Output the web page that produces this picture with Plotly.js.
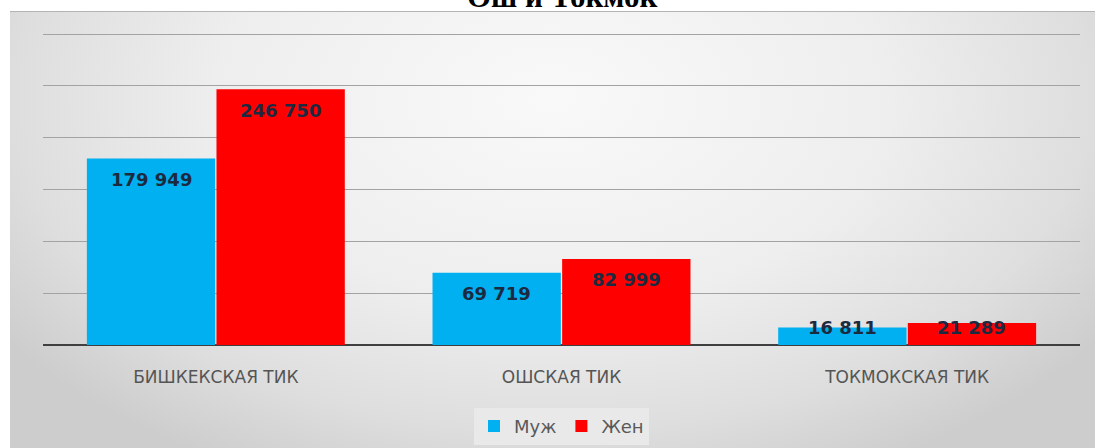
<!DOCTYPE html>
<html>
<head>
<meta charset="utf-8">
<script src="https://cdn.plot.ly/plotly-3.0.1.min.js"></script>
<style>
  html, body { margin: 0; padding: 0; background: #ffffff; }
  #wrap { position: relative; width: 1103px; height: 448px; overflow: hidden; background: #ffffff; }
  #bg { position: absolute; left: 10px; top: 11px; width: 1085px; height: 437px;
        border-top: 1px solid #b4b4b4;
        background: radial-gradient(ellipse 62% 95% at 50% 20%, #f9f9f9 0%, #eeeeee 50%, #dedede 80%, #cdcdcd 100%); }
  #chart { position: absolute; left: 0; top: 0; width: 1103px; height: 448px; }
</style>
</head>
<body>
<div id="wrap">
  <div id="bg"></div>
  <div id="chart"></div>
</div>
<script>
const categories = ["БИШКЕКСКАЯ ТИК", "ОШСКАЯ ТИК", "ТОКМОКСКАЯ ТИК"];
const menValues = [179949, 69719, 16811];
const womenValues = [246750, 82999, 21289];
const seriesNames = ["Муж", "Жен"];
const titleText = "Ош и Токмок";

const blue = "#00B0F0";
const red = "#FF0000";
const bargap = 0.25;
const yMax = 300000;
const rangePad = 1.01;
const plotTop = 31, plotBottom = 103;
const plotH = 448 - plotTop - plotBottom;

function fmt(v) {
  return String(v).replace(/\B(?=(\d{3})+(?!\d))/g, " ");
}

const traces = [
  { type: "bar", name: seriesNames[0], x: categories, y: menValues,
    marker: { color: blue }, hoverinfo: "skip" },
  { type: "bar", name: seriesNames[1], x: categories, y: womenValues,
    marker: { color: red }, hoverinfo: "skip" }
];

const barW = (1 - bargap) / 2;
const annotations = [];
[menValues, womenValues].forEach((vals, s) => {
  const off = (s === 0 ? -1 : 1) * barW / 2;
  vals.forEach((v, i) => {
    const px = v / (yMax * rangePad) * plotH;
    const shift = -Math.min(21, Math.max(0, px - 18));
    annotations.push({
      x: i + off, y: v, xref: "x", yref: "y",
      text: fmt(v), showarrow: false,
      yanchor: "middle", yshift: shift,
      font: { family: "DejaVu Sans", size: 18, color: "#1b2a40", weight: "bold" }
    });
  });
});

annotations.push({
  x: 0.5, y: 1, xref: "paper", yref: "paper",
  text: "<b>" + titleText + "</b>", showarrow: false,
  xanchor: "center", yanchor: "bottom", yshift: 15,
  font: { family: "Liberation Serif", size: 31, color: "#000000" }
});

const layout = {
  width: 1103, height: 448,
  margin: { l: 43, r: 23, t: plotTop, b: plotBottom, pad: 0, autoexpand: false },
  paper_bgcolor: "rgba(0,0,0,0)",
  plot_bgcolor: "rgba(0,0,0,0)",
  barmode: "group",
  bargap: bargap,
  bargroupgap: 0.01,
  xaxis: {
    type: "category", automargin: false,
    showgrid: false, showline: false, zeroline: false,
    ticks: "",
    tickfont: { family: "DejaVu Sans", size: 17, color: "#555555" },
    ticklabelstandoff: 20
  },
  yaxis: {
    range: [0, yMax * rangePad], dtick: 50000, tick0: 0, automargin: false,
    showticklabels: false, ticks: "",
    showgrid: true, gridcolor: "#a3a3a3", gridwidth: 1,
    zeroline: true, zerolinecolor: "#3f3f3f", zerolinewidth: 2,
    showline: false, fixedrange: true
  },
  showlegend: true,
  legend: {
    orientation: "h", x: 0.5, xanchor: "center", xref: "paper",
    yref: "container", y: 0.09, yanchor: "top",
    bgcolor: "#e9e9e9",
    font: { family: "DejaVu Sans", size: 18, color: "#595959" },
    traceorder: "normal"
  },
  annotations: annotations
};

Plotly.newPlot("chart", traces, layout, { staticPlot: true, displayModeBar: false });
</script>
</body>
</html>
